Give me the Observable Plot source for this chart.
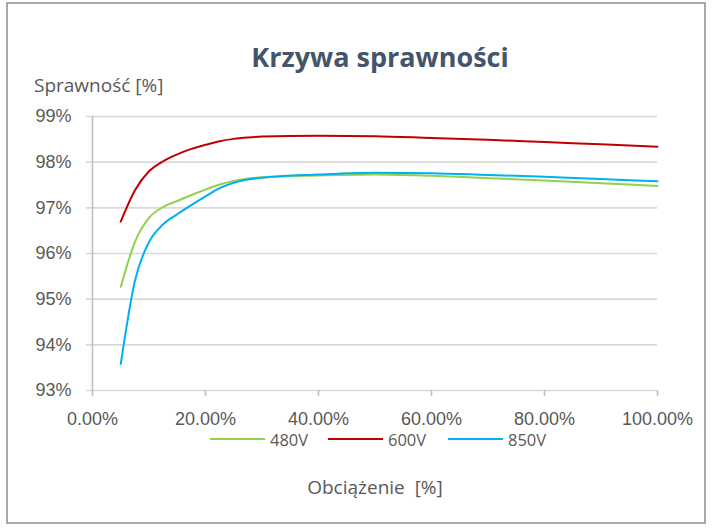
<!DOCTYPE html>
<html>
<head>
<meta charset="utf-8">
<script src="https://cdn.jsdelivr.net/npm/d3@7"></script>
<script src="https://cdn.jsdelivr.net/npm/@observablehq/plot@0.6"></script>
<style>
  html, body { margin: 0; padding: 0; background: #fff; }
  #chart { width: 713px; height: 531px; }
</style>
</head>
<body>
<div id="chart"></div>
<script>
const title = "Krzywa sprawności";
const yTitle = "Sprawność [%]";
const xTitle = "Obciążenie  [%]";
const seriesNames = ["480V", "600V", "850V"];
const seriesColors = ["#92D050", "#C00000", "#00B0F0"];
const xTicks = [0, 20, 40, 60, 80, 100];
const yTicks = [93, 94, 95, 96, 97, 98, 99];

const load = [5, 7.5, 10, 12.5, 15, 17.5, 20, 22.5, 25, 27.5, 30, 40, 50, 60, 70, 80, 90, 100];
const eff480 = [95.27, 96.25, 96.78, 97.02, 97.15, 97.28, 97.40, 97.51, 97.59, 97.64, 97.67, 97.71, 97.73, 97.70, 97.65, 97.60, 97.54, 97.48];
const eff600 = [96.70, 97.38, 97.80, 98.02, 98.17, 98.29, 98.38, 98.46, 98.51, 98.54, 98.56, 98.58, 98.57, 98.53, 98.49, 98.44, 98.39, 98.34];
const eff850 = [93.58, 95.40, 96.25, 96.64, 96.86, 97.06, 97.25, 97.43, 97.55, 97.62, 97.66, 97.73, 97.77, 97.76, 97.72, 97.68, 97.63, 97.58];

const seriesValues = [eff480, eff600, eff850];
const rows = [];
seriesNames.forEach((name, i) => {
  load.forEach((x, j) => rows.push({series: name, load: x, eff: seriesValues[i][j]}));
});

const W = 713, H = 531;
const svg = Plot.plot({
  width: W,
  height: H,
  marginLeft: 92,
  marginRight: 56,
  marginTop: 116,
  marginBottom: 141,
  style: {fontFamily: "'Liberation Sans', Arial, sans-serif", background: "#fff", overflow: "visible"},
  x: {domain: [0, 100]},
  y: {domain: [93, 99]},
  color: {domain: seriesNames, range: seriesColors},
  marks: [
    Plot.ruleY(yTicks, {stroke: "#D9D9D9", strokeWidth: 1.6, insetLeft: -6}),
    Plot.ruleX([0], {stroke: "#BFBFBF", strokeWidth: 1.6}),
    Plot.axisX({
      ticks: xTicks, tickSize: 6, tickPadding: 16,
      stroke: "#BFBFBF", strokeWidth: 1.6, fill: "#595959",
      fontSize: 18, tickFormat: d => d.toFixed(2) + "%", label: null
    }),
    Plot.axisY({
      ticks: yTicks, tickSize: 0, tickPadding: 21,
      fill: "#595959", fontSize: 18, tickFormat: d => d + "%", label: null
    }),
    Plot.line(rows, {x: "load", y: "eff", z: "series", stroke: "series", strokeWidth: 2, curve: "monotone-x"})
  ]
});

const s = d3.select(svg);
// frame border
s.append("rect").attr("x", 7).attr("y", 3).attr("width", 698).attr("height", 520)
  .attr("fill", "none").attr("stroke", "#8C8C8C").attr("stroke-width", 1.5);

s.append("text").text(title)
  .attr("x", 380).attr("y", 67).attr("text-anchor", "middle")
  .attr("font-family", "'Open Sans', sans-serif").attr("font-weight", 700)
  .attr("font-size", 27).attr("fill", "#44546A");

s.append("text").text(yTitle)
  .attr("x", 34).attr("y", 92).attr("text-anchor", "start")
  .attr("font-family", "'Open Sans', sans-serif")
  .attr("font-size", 19).attr("fill", "#595959");

s.append("text").text(xTitle)
  .attr("x", 375).attr("y", 494).attr("text-anchor", "middle")
  .style("white-space", "pre")
  .attr("font-family", "'Open Sans', sans-serif")
  .attr("font-size", 19).attr("fill", "#595959");

// legend
const legX = [210, 328, 448];
const legG = s.append("g");
seriesNames.forEach((name, i) => {
  legG.append("line").attr("x1", legX[i]).attr("x2", legX[i] + 55)
    .attr("y1", 439).attr("y2", 439)
    .attr("stroke", seriesColors[i]).attr("stroke-width", 2);
  legG.append("text").text(name).attr("x", legX[i] + 60).attr("y", 445.5)
    .attr("text-anchor", "start")
    .attr("font-family", "'Open Sans', sans-serif")
    .attr("font-size", 16.5).attr("fill", "#595959");
});

document.getElementById("chart").appendChild(svg);
</script>
</body>
</html>
